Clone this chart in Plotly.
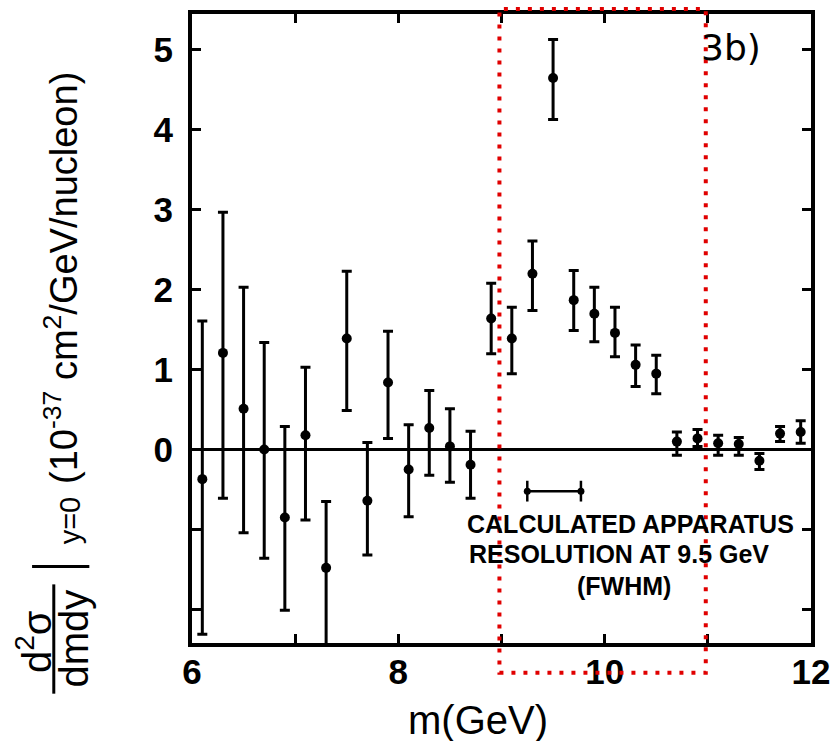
import plotly.graph_objects as go

# Dimuon mass bins (GeV) and measured cross section d2sigma/dm dy at y=0
mass = [6.1, 6.3, 6.5, 6.7, 6.9, 7.1, 7.3, 7.5, 7.7, 7.9,
        8.1, 8.3, 8.5, 8.7, 8.9, 9.1, 9.3, 9.5, 9.7, 9.9,
        10.1, 10.3, 10.5, 10.7, 10.9, 11.1, 11.3, 11.5, 11.7, 11.9]
xsec = [-0.37, 1.21, 0.51, 0.00, -0.85, 0.18, -1.48, 1.39, -0.64, 0.84,
        -0.25, 0.27, 0.04, -0.19, 1.64, 1.39, 2.20, 4.65, 1.87, 1.70,
        1.46, 1.06, 0.95, 0.10, 0.14, 0.08, 0.07, -0.14, 0.20, 0.22]
err_plus = [1.98, 1.76, 1.52, 1.34, 1.14, 0.85, 0.83, 0.84, 0.73, 0.64,
            0.56, 0.47, 0.47, 0.42, 0.44, 0.39, 0.41, 0.48, 0.37, 0.33,
            0.32, 0.25, 0.23, 0.12, 0.11, 0.10, 0.08, 0.09, 0.09, 0.14]
err_minus = [1.94, 1.82, 1.55, 1.36, 1.16, 1.06, 0.97, 0.90, 0.68, 0.70,
             0.59, 0.59, 0.45, 0.42, 0.44, 0.44, 0.46, 0.52, 0.38, 0.35,
             0.30, 0.27, 0.25, 0.17, 0.10, 0.15, 0.14, 0.11, 0.10, 0.14]

# Apparatus resolution at 9.5 GeV (FWHM)
res_lo, res_hi = 9.25, 9.77
res_level = -0.52
res_cap = 0.13

# Highlighted mass window
window = [8.98, 10.98]

x_range = [6, 12]
y_range = [-2.42, 5.45]
x_ticks = [6, 7, 8, 9, 10, 11, 12]
x_ticktext = ["6", "", "8", "", "10", "", "12"]
y_ticks = [-2, -1, 0, 1, 2, 3, 4, 5]
y_ticktext = ["", "", "0", "1", "2", "3", "4", "5"]

W, H = 840, 741
L, R, T, B = 192, 21, 10, 98
PW, PH = W - L - R, H - T - B


def px(xp):
    return (xp - L) / PW


def py(yp):
    return (H - B - yp) / PH


def xpaper(v):
    return (v - x_range[0]) / (x_range[1] - x_range[0])


FONT = "Liberation Sans, Arial, sans-serif"

fig = go.Figure()

fig.add_trace(go.Scatter(
    x=mass, y=xsec, mode="markers",
    marker=dict(color="black", size=10),
    error_y=dict(type="data", symmetric=False, array=err_plus, arrayminus=err_minus,
                 color="black", thickness=3, width=5),
    showlegend=False, cliponaxis=True,
))

fig.add_trace(go.Scatter(
    x=[res_lo, res_hi], y=[res_level, res_level], mode="lines+markers",
    line=dict(color="black", width=2.5),
    marker=dict(color="black", size=7),
    error_y=dict(type="data", array=[res_cap, res_cap], color="black", thickness=2.5, width=0),
    showlegend=False,
))

axis_common = dict(
    showline=True, linecolor="black", linewidth=4, mirror="ticks",
    ticks="inside", ticklen=9, tickwidth=2.5, tickcolor="black",
    showgrid=False,
    tickfont=dict(family=FONT, size=35, color="black", weight="bold"),
)

fig.update_xaxes(range=x_range, tickvals=x_ticks, ticktext=x_ticktext,
                 zeroline=False, ticklabelstandoff=-5, **axis_common)
fig.update_yaxes(range=y_range, tickvals=y_ticks, ticktext=y_ticktext,
                 zeroline=True, zerolinecolor="black", zerolinewidth=2.5,
                 ticklabelstandoff=8, **axis_common)

# Highlight box around the 9-11 GeV region
fig.add_shape(type="rect", xref="paper", yref="paper",
              x0=xpaper(window[0]), x1=xpaper(window[1]), y0=py(673), y1=py(5),
              line=dict(color="#e00000", width=4, dash="4px,8px"), layer="above")

ann = []
txt = dict(family=FONT, color="black")

# x-axis title
ann.append(dict(x=px(482), y=py(720), text="m(GeV)", font=dict(size=40, **txt)))

# y-axis title, built from rotated pieces
ann.append(dict(x=px(32), y=py(642), text="d<sup>2</sup>σ", textangle=-90,
                font=dict(size=40, **txt)))
ann.append(dict(x=px(72), y=py(639), text="dmdy", textangle=-90,
                font=dict(size=40, **txt)))
ann.append(dict(x=px(68), y=py(520), text="y=0", textangle=-90,
                font=dict(size=29, **txt)))
ann.append(dict(x=px(60), y=py(276),
                text="(10<sup>-37</sup> cm<sup>2</sup>/GeV/nucleon)", textangle=-90,
                font=dict(size=38, **txt)))

# panel tag
ann.append(dict(x=px(738), y=py(44), text="3b)", font=dict(size=36, family="DejaVu Sans", color="black")))

# resolution caption
cap_font = dict(size=25, family=FONT, color="black", weight="bold")
ann.append(dict(x=px(636), y=py(523), text="CALCULATED APPARATUS", font=cap_font))
ann.append(dict(x=px(625), y=py(553), text="RESOLUTION AT 9.5 GeV", font=cap_font))
ann.append(dict(x=px(630), y=py(586), text="(FWHM)", font=cap_font))

for a in ann:
    a.update(xref="paper", yref="paper", showarrow=False, xanchor="center", yanchor="middle")

fig.update_layout(
    width=W, height=H, autosize=False,
    margin=dict(l=L, r=R, t=T, b=B, pad=0),
    paper_bgcolor="white", plot_bgcolor="white",
    annotations=ann,
    shapes=list(fig.layout.shapes) + [
        # fraction bar and evaluation bar of the y-axis title
        dict(type="line", xref="paper", yref="paper", x0=px(52), x1=px(52),
             y0=py(584), y1=py(694), line=dict(color="black", width=3)),
        dict(type="line", xref="paper", yref="paper", x0=px(30), x1=px(88),
             y0=py(566), y1=py(566), line=dict(color="black", width=3)),
    ],
)

fig.write_html("out.html")
